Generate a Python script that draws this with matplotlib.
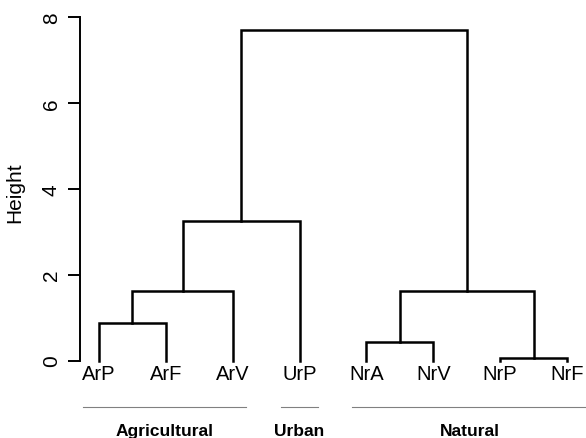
import matplotlib
matplotlib.use("Agg")
import matplotlib.pyplot as plt
import matplotlib.transforms as mtransforms

plt.rcParams['font.family'] = ['Liberation Sans', 'DejaVu Sans']

# leaf order as drawn
leaves = ["ArP", "ArF", "ArV", "UrP", "NrA", "NrV", "NrP", "NrF"]
# merges: (left, right, height) ; ints >= 0 are leaves, "m<k>" is merge k
merges = [
    (0, 1, 0.87),
    ("m0", 2, 1.63),
    ("m1", 3, 3.24),
    (4, 5, 0.44),
    (6, 7, 0.05),
    ("m3", "m4", 1.63),
    ("m2", "m5", 7.70),
]
groups = ["Agricultural", "Urban", "Natural"]
group_spans = [(0.76, 3.20), (3.72, 4.27), (4.79, 8.30)]
yticks = [0, 2, 4, 6, 8]


def plot_dendro():
    fig = plt.figure(figsize=(5.86, 4.39), dpi=100)
    ax = fig.add_axes([80.3 / 586, (439 - 361.5) / 439, 505.4 / 586, 343.5 / 439])

    pos = {}
    for i, name in enumerate(leaves):
        pos[i] = (i + 1, 0.0)

    for k, (a, b, h) in enumerate(merges):
        xa, ha = pos[a]
        xb, hb = pos[b]
        ax.plot([xa, xa, xb, xb], [ha, h, h, hb], color="black", lw=1.8,
                solid_joinstyle="miter", clip_on=False)
        pos["m%d" % k] = ((xa + xb) / 2, h)

    for i, name in enumerate(leaves):
        ax.text(i + 1, -0.09, name, ha="center", va="top", fontsize=14.5)

    trans = mtransforms.blended_transform_factory(ax.transData, ax.transAxes)
    for g, (x0, x1) in zip(groups, group_spans):
        ax.plot([x0, x1], [-0.135, -0.135], color="#808080", lw=0.8,
                transform=trans, clip_on=False)
        ax.text((x0 + x1) / 2, -0.205, g, ha="center", va="center",
                fontsize=12.5, fontweight="bold", transform=trans)

    ax.set_xlim(0.72, 8.28)
    ax.set_ylim(0, 8)
    ax.set_yticks(yticks)
    ax.set_yticklabels([str(t) for t in yticks], rotation=90, va="center", fontsize=15)
    ax.tick_params(axis="y", length=9, width=1.4, pad=5)
    ax.set_xticks([])
    for s in ["top", "right", "bottom"]:
        ax.spines[s].set_visible(False)
    ax.spines["left"].set_linewidth(1.4)
    ax.set_ylabel("Height", fontsize=15)
    ax.yaxis.set_label_coords(-0.11, 0.49)

    fig.savefig("out.png", dpi=100)


if __name__ == "__main__":
    plot_dendro()
